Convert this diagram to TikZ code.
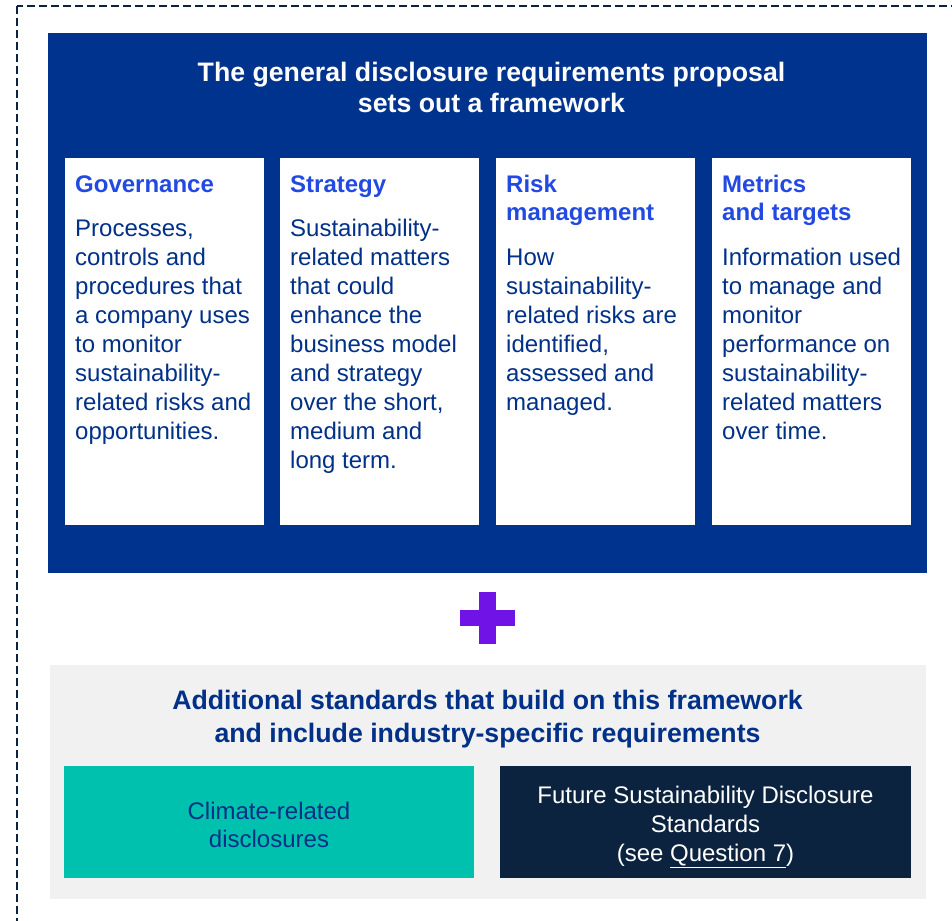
\documentclass[tikz,border=0pt]{standalone}
\usepackage{fontspec}
\setmainfont{Liberation Sans}
\definecolor{navyblue}{RGB}{0,51,141}
\definecolor{headblue}{RGB}{34,73,226}
\definecolor{bodyblue}{RGB}{0,48,135}
\definecolor{darknavy}{RGB}{12,35,64}
\definecolor{tealc}{RGB}{0,193,174}
\definecolor{greybg}{RGB}{241,241,241}
\definecolor{plusc}{RGB}{112,19,230}
\tikzset{
  card/.style={fill=white, draw=none},
  cardhead/.style={anchor=base west, inner sep=0pt, text=headblue, font=\fontsize{24}{28}\selectfont\bfseries},
  cardbody/.style={anchor=base west, inner sep=0pt, text=bodyblue, font=\fontsize{24}{29}\selectfont},
  bigtitle/.style={inner sep=0pt, align=center, font=\fontsize{26.7}{31.5}\selectfont\bfseries},
  boxtext/.style={inner sep=0pt, align=center, font=\fontsize{24}{29}\selectfont}
}
\newcommand{\colbox}[1]{\parbox[t]{195pt}{\raggedright #1}}
\begin{document}
\begin{tikzpicture}[x=1pt,y=-1pt]
\useasboundingbox (0,0) rectangle (952,920);
\begin{scope}
\clip (0,0) rectangle (952,920);
\draw[darknavy, line width=2.6pt, dash pattern=on 8pt off 4pt] (17,6) rectangle (970,940);
\end{scope}
% top framework box
\fill[navyblue] (48,33) rectangle (927,573);
\node[bigtitle, text=white] (title) at (491.5,87.5) {The general disclosure requirements proposal\\sets out a framework};
% cards
\fill[card] (65,158) rectangle (264,525);
\fill[card] (280,158) rectangle (479,525);
\fill[card] (496,158) rectangle (695,525);
\fill[card] (712,158) rectangle (911,525);
\node[cardhead] (gh) at (75,193) {\colbox{Governance}};
\node[cardhead] (sh) at (290,193) {\colbox{Strategy}};
\node[cardhead] (rh) at (506,193) {\colbox{Risk\\management}};
\node[cardhead] (mh) at (722,193) {\colbox{Metrics\\and targets}};
\node[cardbody] (gb) at (75,236) {\colbox{Processes,\\controls and\\procedures that\\a company uses\\to monitor\\sustainability-\\related risks and\\opportunities.}};
\node[cardbody] (sb) at (290,236) {\colbox{Sustainability-\\related matters\\that could\\enhance the\\business model\\and strategy\\over the short,\\medium and\\long term.}};
\node[cardbody] (rb) at (506,265) {\colbox{How\\sustainability-\\related risks are\\identified,\\assessed and\\managed.}};
\node[cardbody] (mb) at (722,265) {\colbox{Information used\\to manage and\\monitor\\performance on\\sustainability-\\related matters\\over time.}};
% plus sign
\fill[plusc] (460,610) rectangle (515,626);
\fill[plusc] (479,592) rectangle (496,644);
% bottom section
\fill[greybg] (50,665) rectangle (926,899);
\node[bigtitle, text=bodyblue, font=\fontsize{26.7}{33}\selectfont\bfseries] (addl) at (487.5,719) {Additional standards that build on this framework\\and include industry-specific requirements};
\fill[tealc] (64,766) rectangle (474,878);
\fill[darknavy] (500,766) rectangle (911,878);
\node[boxtext, text=bodyblue, font=\fontsize{24}{28}\selectfont] (climate) at (269,825) {Climate-related\\disclosures};
\node[boxtext, text=white] (future) at (705.5,827) {Future Sustainability Disclosure\\Standards\\(see \underline{Question 7})};
\end{tikzpicture}
\end{document}
